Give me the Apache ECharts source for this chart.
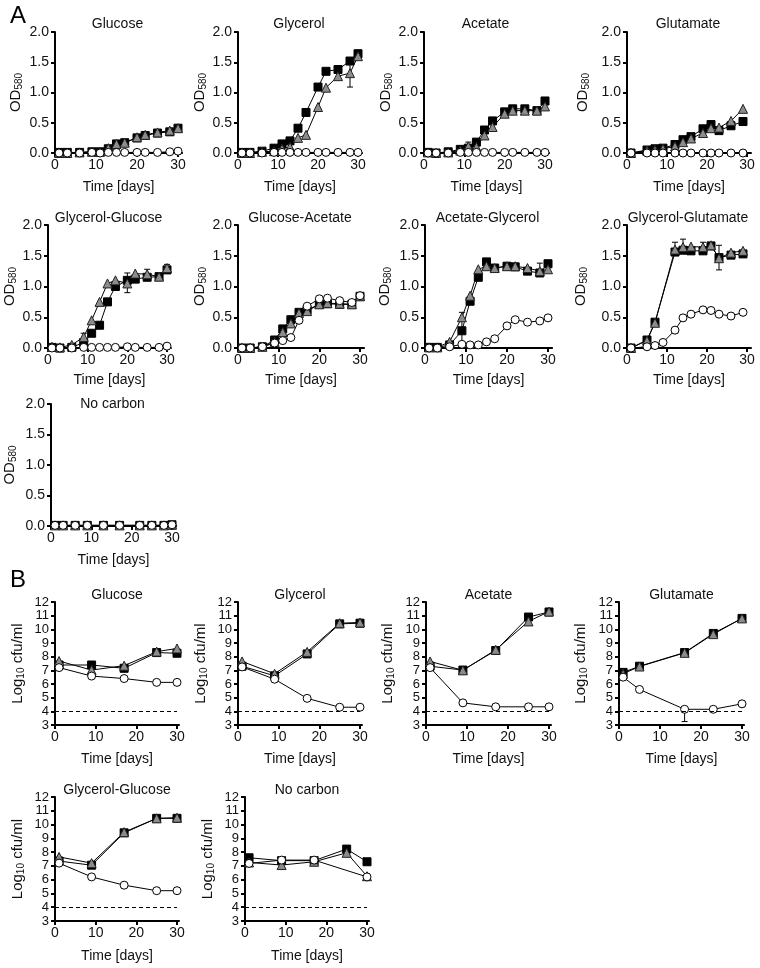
<!DOCTYPE html>
<html><head><meta charset="utf-8">
<script src="https://cdn.jsdelivr.net/npm/echarts@6/dist/echarts.min.js"></script>
<style>html,body{margin:0;padding:0;background:#fff}#c{width:760px;height:968px}</style>
</head><body><div id="c"></div>
<script>
// ---------- DATA ----------
const xTickLabels = [0, 10, 20, 30];
const odTicks = [0, 0.5, 1.0, 1.5, 2.0];
const cfuTicks = [3, 4, 5, 6, 7, 8, 9, 10, 11, 12];
const detectionLimit = 4;
const detectionRange = [0, 30];

const daysA = [1, 3, 6, 9, 11, 13, 15, 17, 20, 22, 25, 28, 30];
const daysGlut = [1, 5, 7, 9, 12, 14, 16, 19, 21, 23, 26, 29];
const daysNoC = [1, 3, 6, 9, 13, 17, 22, 25, 28, 30];
const daysB = [1, 9, 17, 25, 30];
const daysBGlut = [1, 5, 16, 23, 30];

// Panel A (OD580)
const glucoseA_sq   = [0.01,0.01,0.01,0.02,0.02,0.07,0.15,0.17,0.25,0.29,0.33,0.35,0.41];
const glucoseA_tri  = [0.00,0.00,0.01,0.02,0.02,0.08,0.15,0.17,0.26,0.30,0.34,0.37,0.41];
const glucoseA_circ = [0.00,0.00,0.00,0.01,0.00,0.01,0.01,0.01,0.01,0.01,0.01,0.02,0.03];

const glycerolA_sq   = [0.01,0.01,0.03,0.08,0.15,0.20,0.41,0.67,1.09,1.35,1.38,1.52,1.64];
const glycerolA_tri  = [0.00,0.00,0.02,0.03,0.07,0.10,0.25,0.30,0.76,1.08,1.27,1.32,1.60];
const glycerolA_circ = [0.00,0.00,0.00,0.01,0.01,0.01,0.01,0.01,0.01,0.01,0.01,0.01,0.01];
const glycerolA_err  = [[28,1.09,1.55],[30,1.58,1.70]];

const acetateA_sq   = [0.01,0.00,0.02,0.06,0.08,0.18,0.38,0.53,0.68,0.73,0.73,0.70,0.86];
const acetateA_tri  = [0.01,0.00,0.01,0.04,0.11,0.10,0.29,0.43,0.65,0.70,0.70,0.70,0.77];
const acetateA_circ = [0.00,0.00,0.00,0.01,0.01,0.01,0.01,0.01,0.01,0.01,0.01,0.01,0.01];
const acetateA_err  = [[11,0.04,0.18],[30,0.80,0.90]];

const glutamateA_sq   = [0.00,0.05,0.07,0.08,0.14,0.22,0.27,0.40,0.47,0.37,0.45,0.52];
const glutamateA_tri  = [0.00,0.04,0.05,0.07,0.11,0.18,0.24,0.33,0.41,0.42,0.53,0.73];
const glutamateA_circ = [0.00,0.00,0.00,0.00,0.00,0.00,0.00,0.00,0.00,0.00,0.00,0.00];

const glyGluA_sq   = [0.01,0.00,0.01,0.09,0.24,0.37,0.75,1.00,1.10,1.12,1.15,1.16,1.27];
const glyGluA_tri  = [0.02,0.01,0.05,0.18,0.45,0.75,1.05,1.10,1.05,1.21,1.20,1.16,1.30];
const glyGluA_circ = [0.00,0.00,0.00,0.01,0.01,0.01,0.01,0.01,0.02,0.01,0.01,0.01,0.03];
const glyGluA_err  = [[9,0.12,0.24],[20,0.90,1.22],[25,1.13,1.28],[30,1.22,1.36]];

const gluAceA_sq   = [0.00,0.00,0.02,0.13,0.31,0.46,0.58,0.62,0.71,0.72,0.71,0.71,0.84];
const gluAceA_tri  = [0.00,0.00,0.02,0.10,0.26,0.40,0.57,0.60,0.71,0.73,0.72,0.71,0.84];
const gluAceA_circ = [0.00,0.00,0.02,0.08,0.12,0.17,0.45,0.68,0.80,0.81,0.77,0.74,0.85];

const aceGlyA_sq   = [0.01,0.01,0.05,0.28,0.76,1.15,1.40,1.30,1.33,1.32,1.25,1.22,1.37];
const aceGlyA_tri  = [0.01,0.01,0.10,0.50,0.85,1.28,1.33,1.30,1.33,1.33,1.30,1.25,1.28];
const aceGlyA_circ = [0.00,0.00,0.02,0.06,0.05,0.05,0.10,0.15,0.36,0.46,0.42,0.44,0.49];
const aceGlyA_err  = [[9,0.10,0.58],[28,1.20,1.38]];

const glyGlutA_sq   = [0.00,0.13,0.42,null,1.56,1.59,1.58,1.58,1.66,1.47,1.51,1.53];
const glyGlutA_tri  = [0.00,0.12,0.41,null,1.60,1.64,1.65,1.64,1.67,1.46,1.55,1.58];
const glyGlutA_circ = [0.00,0.02,0.04,0.09,0.29,0.49,0.55,0.62,0.61,0.55,0.52,0.58];
const glyGlutA_err  = [[12,1.55,1.72],[14,1.60,1.77],[19,1.60,1.72],[23,1.27,1.67]];

const noCarbonA_sq   = [0.01,0.01,0.01,0.01,0.01,0.01,0.01,0.01,0.01,0.02];
const noCarbonA_tri  = [0.01,0.01,0.01,0.01,0.01,0.01,0.01,0.01,0.01,0.02];
const noCarbonA_circ = [0.01,0.01,0.01,0.01,0.01,0.01,0.01,0.01,0.01,0.02];

// Panel B (log10 cfu/ml)
const glucoseB_sq   = [7.39,7.39,7.15,8.30,8.25];
const glucoseB_tri  = [7.68,7.02,7.34,8.37,8.60];
const glucoseB_circ = [7.20,6.58,6.40,6.12,6.12];

const glycerolB_sq   = [7.30,6.60,8.20,10.40,10.45];
const glycerolB_tri  = [7.65,6.75,8.35,10.45,10.50];
const glycerolB_circ = [7.25,6.35,4.95,4.30,4.30];

const acetateB_sq   = [7.30,7.02,8.45,10.90,11.27];
const acetateB_tri  = [7.65,7.00,8.50,10.58,11.30];
const acetateB_circ = [7.20,4.62,4.33,4.33,4.33];

const glutamateB_sq   = [6.85,7.30,8.30,9.70,10.80];
const glutamateB_tri  = [6.75,7.28,8.28,9.65,10.80];
const glutamateB_circ = [6.50,5.60,4.15,4.15,4.55];
const glutamateB_err  = [[16,3.25,4.35]];

const glyGluB_sq   = [7.35,7.05,9.40,10.45,10.45];
const glyGluB_tri  = [7.65,7.20,9.45,10.45,10.50];
const glyGluB_circ = [7.20,6.20,5.60,5.20,5.20];

const noCarbonB_sq   = [7.59,7.38,7.38,8.22,7.30];
const noCarbonB_tri  = [7.25,7.06,7.30,7.95,6.25];
const noCarbonB_circ = [7.18,7.42,7.42,null,6.20];

// ---------- PANEL DEFINITIONS ----------
const panels = [
  {title:'Glucose', kind:'A', x:daysA, sq:glucoseA_sq, tri:glucoseA_tri, circ:glucoseA_circ, err:[]},
  {title:'Glycerol', kind:'A', x:daysA, sq:glycerolA_sq, tri:glycerolA_tri, circ:glycerolA_circ, err:glycerolA_err},
  {title:'Acetate', kind:'A', x:daysA, sq:acetateA_sq, tri:acetateA_tri, circ:acetateA_circ, err:acetateA_err},
  {title:'Glutamate', kind:'A', x:daysGlut, sq:glutamateA_sq, tri:glutamateA_tri, circ:glutamateA_circ, err:[]},
  {title:'Glycerol-Glucose', kind:'A', x:daysA, sq:glyGluA_sq, tri:glyGluA_tri, circ:glyGluA_circ, err:glyGluA_err},
  {title:'Glucose-Acetate', kind:'A', x:daysA, sq:gluAceA_sq, tri:gluAceA_tri, circ:gluAceA_circ, err:[]},
  {title:'Acetate-Glycerol', kind:'A', x:daysA, sq:aceGlyA_sq, tri:aceGlyA_tri, circ:aceGlyA_circ, err:aceGlyA_err},
  {title:'Glycerol-Glutamate', kind:'A', x:daysGlut, sq:glyGlutA_sq, tri:glyGlutA_tri, circ:glyGlutA_circ, err:glyGlutA_err},
  {title:'No carbon', kind:'A', x:daysNoC, sq:noCarbonA_sq, tri:noCarbonA_tri, circ:noCarbonA_circ, err:[]},
  {title:'Glucose', kind:'B', x:daysB, sq:glucoseB_sq, tri:glucoseB_tri, circ:glucoseB_circ, err:[]},
  {title:'Glycerol', kind:'B', x:daysB, sq:glycerolB_sq, tri:glycerolB_tri, circ:glycerolB_circ, err:[]},
  {title:'Acetate', kind:'B', x:daysB, sq:acetateB_sq, tri:acetateB_tri, circ:acetateB_circ, err:[]},
  {title:'Glutamate', kind:'B', x:daysBGlut, sq:glutamateB_sq, tri:glutamateB_tri, circ:glutamateB_circ, err:glutamateB_err},
  {title:'Glycerol-Glucose', kind:'B', x:daysB, sq:glyGluB_sq, tri:glyGluB_tri, circ:glyGluB_circ, err:[]},
  {title:'No carbon', kind:'B', x:daysB, sq:noCarbonB_sq, tri:noCarbonB_tri, circ:noCarbonB_circ, err:[]}
];

// layout: [left px (x=0), top px, px of x=30, bottom px, y-name gap, title center y, x-name gap]
const layout = [
  [55,32,178,153,31,24,27],[238,32,358,153,27,24,27],[424,32,545,153,26,24,27],[627,32,747,153,36,24,27],
  [48,225,167,348,29,218,25],[238,225,360,348,29,218,25],[425,225,548,348,32,218,25],[627,225,747,348,38,218,25],
  [51,404,172,526,33,404,27],
  [55,602,177,725,29,595,27],[238,602,360,725,29,595,27],[426,602,549,725,30,595,27],[619,602,742,725,30,595,27],
  [55,797,177,921,29,790,28],[245,797,367,921,29,790,28]
];

const FONT = '"Liberation Sans", Arial, Helvetica, sans-serif';
const TXT = '#111';
const grid = [], xAxis = [], yAxis = [], series = [], graphic = [];

function renderErr(params, api) {
  const x = api.value(0), lo = api.value(1), hi = api.value(2);
  const p1 = api.coord([x, hi]), p2 = api.coord([x, lo]);
  const w = 3, st = {stroke:'#000', lineWidth:1};
  return {type:'group', children:[
    {type:'line', shape:{x1:p1[0],y1:p1[1],x2:p2[0],y2:p2[1]}, style:st},
    {type:'line', shape:{x1:p1[0]-w,y1:p1[1],x2:p1[0]+w,y2:p1[1]}, style:st},
    {type:'line', shape:{x1:p2[0]-w,y1:p2[1],x2:p2[0]+w,y2:p2[1]}, style:st}
  ]};
}

const lineBase = {type:'line', clip:false, showAllSymbol:true, connectNulls:true,
  lineStyle:{color:'#000', width:1}, emphasis:{disabled:true}, silent:true};

panels.forEach((p, i) => {
  const [l, t, x30, b, yGap, titleY, xGap] = layout[i];
  const isA = p.kind === 'A';
  const xmax = isA ? 31 : 30.5;
  const w = (x30 - l) / 30 * xmax;
  grid.push({left:l, top:t, width:w, height:b - t});
  xAxis.push({
    gridIndex:i, type:'value', min:0, max:xmax,
    name:'Time [days]', nameLocation:'middle', nameGap:xGap,
    nameTextStyle:{fontFamily:FONT, fontSize:14, color:TXT},
    axisLine:{onZero:false, lineStyle:{color:'#000', width:2}},
    axisTick:{customValues:xTickLabels, length:4, lineStyle:{color:'#000', width:2}},
    axisLabel:{customValues:xTickLabels, fontFamily:FONT, fontSize:14, color:TXT, margin:5,
      showMinLabel:true, showMaxLabel:true, hideOverlap:false},
    splitLine:{show:false}
  });
  yAxis.push({
    gridIndex:i, type:'value',
    min: isA ? odTicks[0] : cfuTicks[0],
    max: isA ? odTicks[odTicks.length-1] : cfuTicks[cfuTicks.length-1],
    interval: isA ? 0.5 : 1,
    name: isA ? '{a|OD}{b|580}' : '{a|Log}{b|10}{a| cfu/ml}',
    nameLocation:'middle', nameRotate:90, nameGap:yGap,
    nameTextStyle:{color:TXT, rich:{
      a:{fontFamily:FONT, fontSize:15, lineHeight:17, color:TXT},
      b:{fontFamily:FONT, fontSize:10, lineHeight:6, verticalAlign:'bottom', color:TXT}
    }},
    axisLine:{show:true, onZero:false, lineStyle:{color:'#000', width:2}},
    axisTick:{show:true, length:4, lineStyle:{color:'#000', width:2}},
    axisLabel:{fontFamily:FONT, fontSize: isA ? 14 : 13, lineHeight: isA ? 16 : 12, color:TXT, margin:6,
      showMinLabel:true, showMaxLabel:true, hideOverlap:false,
      formatter: v => isA ? v.toFixed(1) : String(v)},
    splitLine:{show:false}
  });
  graphic.push({type:'text', x:(l + x30) / 2 + 1, y:titleY,
    style:{text:p.title, font:'14px ' + FONT, fill:TXT, textAlign:'center', textVerticalAlign:'middle'}});

  const pts = arr => p.x.map((d, k) => [d, arr[k]]);
  if (p.err.length) {
    series.push({type:'custom', xAxisIndex:i, yAxisIndex:i, renderItem:renderErr, data:p.err,
      encode:{x:0, y:[1,2]}, silent:true, z:1});
  }
  const sqSeries = Object.assign({}, lineBase, {xAxisIndex:i, yAxisIndex:i, data:pts(p.sq), z:2,
    symbol:'rect', symbolSize:8, itemStyle:{color:'#000', borderColor:'#000', borderWidth:1}});
  if (!isA) {
    sqSeries.markLine = {silent:true, symbol:'none', label:{show:false},
      lineStyle:{color:'#000', type:[4,3], width:1},
      data:[[{coord:[detectionRange[0], detectionLimit]}, {coord:[detectionRange[1], detectionLimit]}]]};
  }
  series.push(sqSeries);
  series.push(Object.assign({}, lineBase, {xAxisIndex:i, yAxisIndex:i, data:pts(p.tri), z:3,
    symbol:'triangle', symbolSize:9, itemStyle:{color:'#8c8c8c', borderColor:'#222', borderWidth:1}}));
  series.push(Object.assign({}, lineBase, {xAxisIndex:i, yAxisIndex:i, data:pts(p.circ), z:4,
    symbol:'circle', symbolSize:8, itemStyle:{color:'#fff', borderColor:'#000', borderWidth:1}}));
});

graphic.push({type:'text', x:10, y:16, style:{text:'A', font:'24px ' + FONT, fill:'#000', textVerticalAlign:'middle'}});
graphic.push({type:'text', x:10, y:580, style:{text:'B', font:'24px ' + FONT, fill:'#000', textVerticalAlign:'middle'}});

const chart = echarts.init(document.getElementById('c'), null, {renderer:'canvas'});
chart.setOption({animation:false, backgroundColor:'#fff', grid, xAxis, yAxis, series, graphic});
</script></body></html>
